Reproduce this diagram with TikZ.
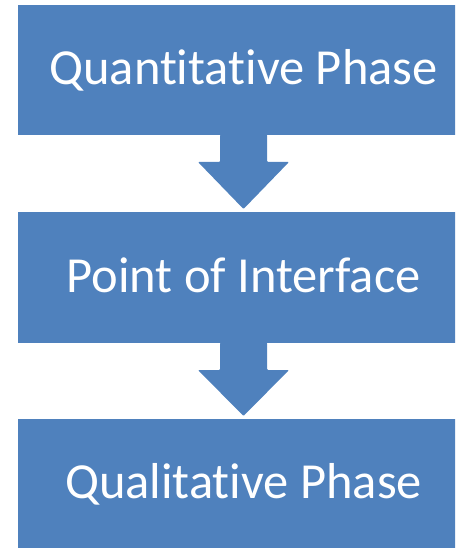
\documentclass[tikz,border=0pt]{standalone}
\usepackage{fontspec}
\setmainfont{Carlito}[Ligatures=NoCommon]
\usetikzlibrary{calc}
\definecolor{boxblue}{HTML}{4F81BD}
\begin{document}
\begin{tikzpicture}[x=1pt,y=1pt,
  phasebox/.style={fill=boxblue,draw=none,minimum width=451pt,inner sep=0pt,outer sep=0pt},
  phasetext/.style={text=white,font=\fontsize{50.5}{60}\selectfont,anchor=base,inner sep=0pt},
  blockarrow/.style={fill=boxblue,draw=none,rounded corners=1pt}]
\useasboundingbox (0,0) rectangle (455,-548);
\clip (0,0) rectangle (455,-548);
\node[phasebox,minimum height=130pt] (b1) at (243.5,-70) {};
\node[phasebox,minimum height=131pt] (b2) at (243.5,-277.5) {};
\node[phasebox,minimum height=130pt] (b3) at (243.5,-484) {};
\node[phasetext] (t1) at (243.5,-85) {Quantitative Phase};
\node[phasetext] (t2) at (243.5,-292) {Point of Interface};
\node[phasetext] (t3) at (243.5,-498) {Qualitative Phase};
\foreach \a/\b in {b1/b2,b2/b3}{
  \fill[blockarrow] ($(\a.south)+(-23.5,0.5)$) -- ($(\a.south)+(-23.5,-27)$) -- ($(\a.south)+(-45.5,-27)$)
    -- ($(\b.north)+(0,3)$) -- ($(\a.south)+(45.5,-27)$) -- ($(\a.south)+(23.5,-27)$)
    -- ($(\a.south)+(23.5,0.5)$) -- cycle;
}
\end{tikzpicture}
\end{document}
